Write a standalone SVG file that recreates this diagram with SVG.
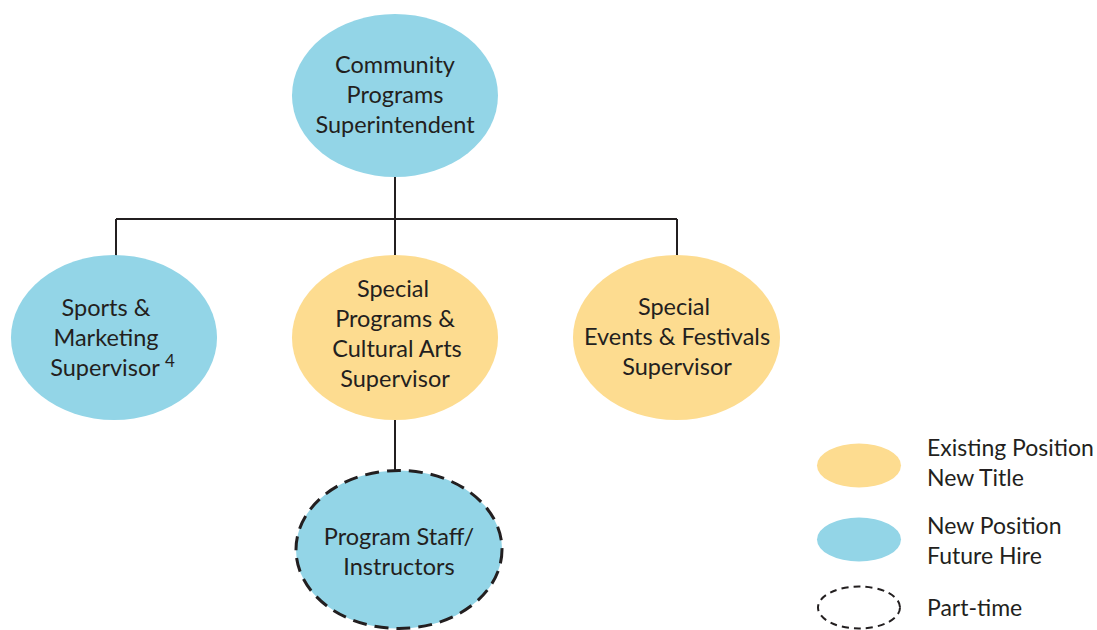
<svg xmlns="http://www.w3.org/2000/svg" width="1097" height="630" viewBox="0 0 1097 630">
<style>
.t{font-family:Lato,"Open Sans","Liberation Sans",sans-serif;font-size:23.5px;fill:#231f20;text-anchor:middle}
.lt{font-family:Lato,"Open Sans","Liberation Sans",sans-serif;font-size:23px;fill:#231f20}
.blue{fill:#93d5e7}
.org{fill:#fddc90}
.dash{stroke:#231f20;stroke-width:3;stroke-dasharray:14 8}
.ln{stroke:#231f20;stroke-width:2;fill:none}
</style>
<rect width="1097" height="630" fill="#fff"/>
<g id="connectors">
<path class="ln" d="M395 177V219M116 219H677M116 219V256M395 219V256M677 219V256M395 420V471"/>
</g>
<g id="n-super">
<ellipse class="blue" cx="395" cy="95.5" rx="103" ry="81.5"/>
<text class="t" x="395" y="73">Community</text>
<text class="t" x="395" y="103">Programs</text>
<text class="t" x="395" y="133">Superintendent</text>
</g>
<g id="n-sports">
<ellipse class="blue" cx="114" cy="337.5" rx="103" ry="82.5"/>
<text class="t" x="106" y="316">Sports &amp;</text>
<text class="t" x="106" y="346">Marketing</text>
<text class="t" x="105" y="376">Supervisor</text>
<text class="lt" x="165" y="367" style="font-size:17px">4</text>
</g>
<g id="n-special">
<ellipse class="org" cx="395" cy="337.5" rx="103" ry="82.5"/>
<text class="t" x="393" y="297">Special</text>
<text class="t" x="395" y="327">Programs &amp;</text>
<text class="t" x="397" y="357">Cultural Arts</text>
<text class="t" x="395" y="387">Supervisor</text>
</g>
<g id="n-events">
<ellipse class="org" cx="676.5" cy="337.5" rx="103.5" ry="82.5"/>
<text class="t" x="674" y="315">Special</text>
<text class="t" x="677" y="345">Events &amp; Festivals</text>
<text class="t" x="677" y="375">Supervisor</text>
</g>
<g id="n-staff">
<ellipse class="blue dash" cx="399" cy="549.5" rx="103" ry="79"/>
<text class="t" x="399" y="545">Program Staff/</text>
<text class="t" x="399" y="575">Instructors</text>
</g>
<g id="legend">
<ellipse class="org" cx="859" cy="465.5" rx="42" ry="22"/>
<text class="lt" x="927" y="456">Existing Position</text>
<text class="lt" x="927" y="486">New Title</text>
<ellipse class="blue" cx="859" cy="539.5" rx="42" ry="22"/>
<text class="lt" x="927" y="534">New Position</text>
<text class="lt" x="927" y="564">Future Hire</text>
<ellipse cx="859" cy="607.5" rx="41" ry="21" fill="none" stroke="#231f20" stroke-width="2" stroke-dasharray="7 5"/>
<text class="lt" x="927" y="616">Part-time</text>
</g>
</svg>
